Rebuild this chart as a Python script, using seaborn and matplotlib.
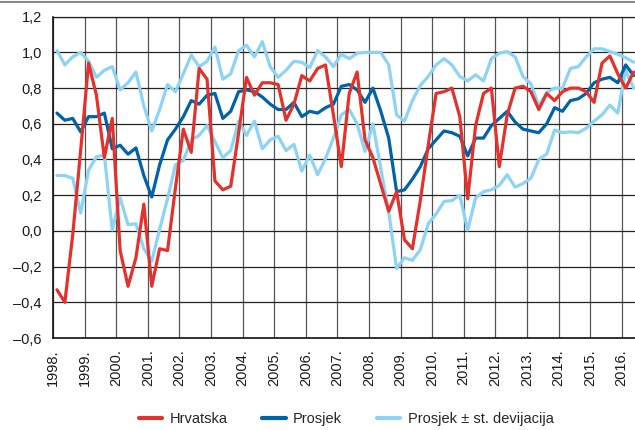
from __future__ import annotations

import matplotlib

matplotlib.use("Agg")

import matplotlib.pyplot as plt
import matplotlib.transforms as mtransforms
import numpy as np
import pandas as pd
import seaborn as sns
from matplotlib import font_manager
from matplotlib.lines import Line2D
from matplotlib.ticker import FuncFormatter, MultipleLocator

# quarterly observations, 1998Q1 .. 2016Q2
start_year = 1998
n_quarters = 74

hrvatska = [
    -0.33, -0.40, -0.02, 0.45, 0.94, 0.76, 0.41, 0.63, -0.11, -0.31,
    -0.15, 0.15, -0.31, -0.10, -0.11, 0.24, 0.57, 0.44, 0.91, 0.85,
    0.28, 0.23, 0.25, 0.55, 0.86, 0.76, 0.83, 0.83, 0.82, 0.62,
    0.71, 0.87, 0.84, 0.91, 0.93, 0.65, 0.36, 0.77, 0.89, 0.51,
    0.41, 0.26, 0.11, 0.22, -0.05, -0.10, 0.17, 0.48, 0.77, 0.78,
    0.80, 0.64, 0.18, 0.59, 0.77, 0.80, 0.36, 0.65, 0.80, 0.81,
    0.78, 0.68, 0.77, 0.73, 0.78, 0.80, 0.80, 0.78, 0.72, 0.94,
    0.98, 0.88, 0.80, 0.89,
]
prosjek = [
    0.66, 0.62, 0.63, 0.555, 0.64, 0.64, 0.66, 0.46, 0.48, 0.43,
    0.465, 0.31, 0.19, 0.37, 0.51, 0.57, 0.64, 0.73, 0.71, 0.76,
    0.77, 0.63, 0.67, 0.78, 0.79, 0.78, 0.75, 0.71, 0.68, 0.68,
    0.72, 0.64, 0.67, 0.66, 0.69, 0.71, 0.81, 0.82, 0.79, 0.72,
    0.80, 0.67, 0.52, 0.22, 0.23, 0.29, 0.36, 0.46, 0.51, 0.56,
    0.55, 0.53, 0.42, 0.52, 0.52, 0.59, 0.63, 0.67, 0.61, 0.57,
    0.56, 0.55, 0.60, 0.69, 0.67, 0.73, 0.74, 0.77, 0.83, 0.85,
    0.86, 0.83, 0.93, 0.87,
]
prosjek_plus_sd = [
    1.01, 0.93, 0.975, 1.0, 0.95, 0.86, 0.90, 0.92, 0.79, 0.83,
    0.89, 0.70, 0.56, 0.68, 0.82, 0.78, 0.88, 0.985, 0.92, 0.95,
    1.03, 0.85, 0.88, 1.01, 1.04, 0.975, 1.06, 0.92, 0.86, 0.90,
    0.95, 0.945, 0.915, 1.01, 0.975, 0.92, 0.99, 0.965, 0.995, 1.0,
    1.0, 1.0, 0.93, 0.65, 0.615, 0.73, 0.815, 0.865, 0.93, 0.965,
    0.93, 0.865, 0.84, 0.875, 0.84, 0.965, 0.995, 1.005, 0.975, 0.865,
    0.825, 0.70, 0.775, 0.80, 0.80, 0.91, 0.92, 0.975, 1.02, 1.02,
    1.005, 0.99, 0.97, 0.945,
]
prosjek_minus_sd = [
    0.31, 0.31, 0.295, 0.10, 0.34, 0.415, 0.425, 0.005, 0.185, 0.035,
    0.04, -0.10, -0.17, 0.01, 0.18, 0.37, 0.395, 0.51, 0.535, 0.59,
    0.50, 0.41, 0.45, 0.615, 0.535, 0.615, 0.46, 0.51, 0.53, 0.45,
    0.485, 0.335, 0.425, 0.315, 0.405, 0.52, 0.65, 0.68, 0.60, 0.445,
    0.60, 0.35, 0.105, -0.21, -0.15, -0.165, -0.105, 0.04, 0.095, 0.165,
    0.17, 0.20, 0.005, 0.185, 0.22, 0.23, 0.255, 0.315, 0.245, 0.265,
    0.295, 0.40, 0.43, 0.565, 0.55, 0.555, 0.55, 0.575, 0.615, 0.65,
    0.705, 0.66, 0.90, 0.80,
]
year_labels = [f"{y}." for y in range(1998, 2017)]

RED = "#e5312b"
BLUE = "#0063a9"
LIGHT = "#8dd3f6"


def _font_family() -> list[str]:
    names = {f.name for f in font_manager.fontManager.ttflist}
    first = "Liberation Sans Narrow" if "Liberation Sans Narrow" in names else "Liberation Sans"
    return [first, "DejaVu Sans"]


def main() -> None:
    sns.set_theme(style="white")
    plt.rcParams["font.family"] = _font_family()

    # quarter mid points in fractional years
    x = start_year + (np.arange(n_quarters) + 0.5) / 4
    df = pd.DataFrame(
        {
            "x": x,
            "hrvatska": hrvatska,
            "prosjek": prosjek,
            "plus": prosjek_plus_sd,
            "minus": prosjek_minus_sd,
        }
    )

    fig = plt.figure(figsize=(6.35, 4.3), dpi=100)
    ax = fig.add_axes([53 / 635, 1 - 338 / 430, 1 - 53 / 635, (338 - 16.7) / 430])

    lw = 2.3
    sns.lineplot(data=df, x="x", y="plus", color=LIGHT, linewidth=lw, ax=ax, zorder=3)
    sns.lineplot(data=df, x="x", y="minus", color=LIGHT, linewidth=lw, ax=ax, zorder=3)
    sns.lineplot(data=df, x="x", y="prosjek", color=BLUE, linewidth=lw, ax=ax, zorder=4)
    sns.lineplot(data=df, x="x", y="hrvatska", color=RED, linewidth=lw, ax=ax, zorder=5)

    ax.set_xlim(1998, 2016.42)
    ax.set_ylim(-0.6, 1.2)
    ax.yaxis.set_major_locator(MultipleLocator(0.2))
    ax.yaxis.set_major_formatter(
        FuncFormatter(lambda v, _: f"{v:.1f}".replace(".", ",").replace("-", "\u2013"))
    )
    ax.set_xticks(range(1998, 2017))
    ax.set_xticklabels(year_labels, rotation=90, va="top", ha="center")
    offset = mtransforms.ScaledTranslation(3 / 100, 0, fig.dpi_scale_trans)
    for label in ax.get_xticklabels():
        label.set_transform(label.get_transform() + offset)

    ax.grid(True, axis="y", color="#222222", linewidth=0.9, zorder=1)
    ax.grid(True, axis="x", color="#555555", linewidth=0.9, zorder=1)
    ax.set_axisbelow(True)
    ax.tick_params(axis="both", length=0, labelsize=10.5, colors="#1a1a1a")
    ax.tick_params(axis="y", pad=8)
    ax.tick_params(axis="x", pad=8)
    ax.set_xlabel("")
    ax.set_ylabel("")
    for side in ("left", "bottom"):
        ax.spines[side].set_color("#111111")
        ax.spines[side].set_linewidth(1.2)
    ax.spines["top"].set_color("#222222")
    ax.spines["top"].set_linewidth(0.9)
    ax.spines["right"].set_visible(False)

    fig.add_artist(Line2D([0, 1], [0.996, 0.996], color="#8a8a8a", linewidth=1.5))

    handles = [
        Line2D([], [], color=RED, linewidth=3),
        Line2D([], [], color=BLUE, linewidth=3),
        Line2D([], [], color=LIGHT, linewidth=3),
    ]
    fig.legend(
        handles,
        ["Hrvatska", "Prosjek", "Prosjek \u00b1 st. devijacija"],
        loc="center",
        bbox_to_anchor=(0.545, 0.026),
        ncol=3,
        frameon=False,
        fontsize=10.5,
        handlelength=1.6,
        handletextpad=0.5,
        columnspacing=2.4,
    )

    fig.savefig("out.png", dpi=100)
    plt.close(fig)


if __name__ == "__main__":
    main()
